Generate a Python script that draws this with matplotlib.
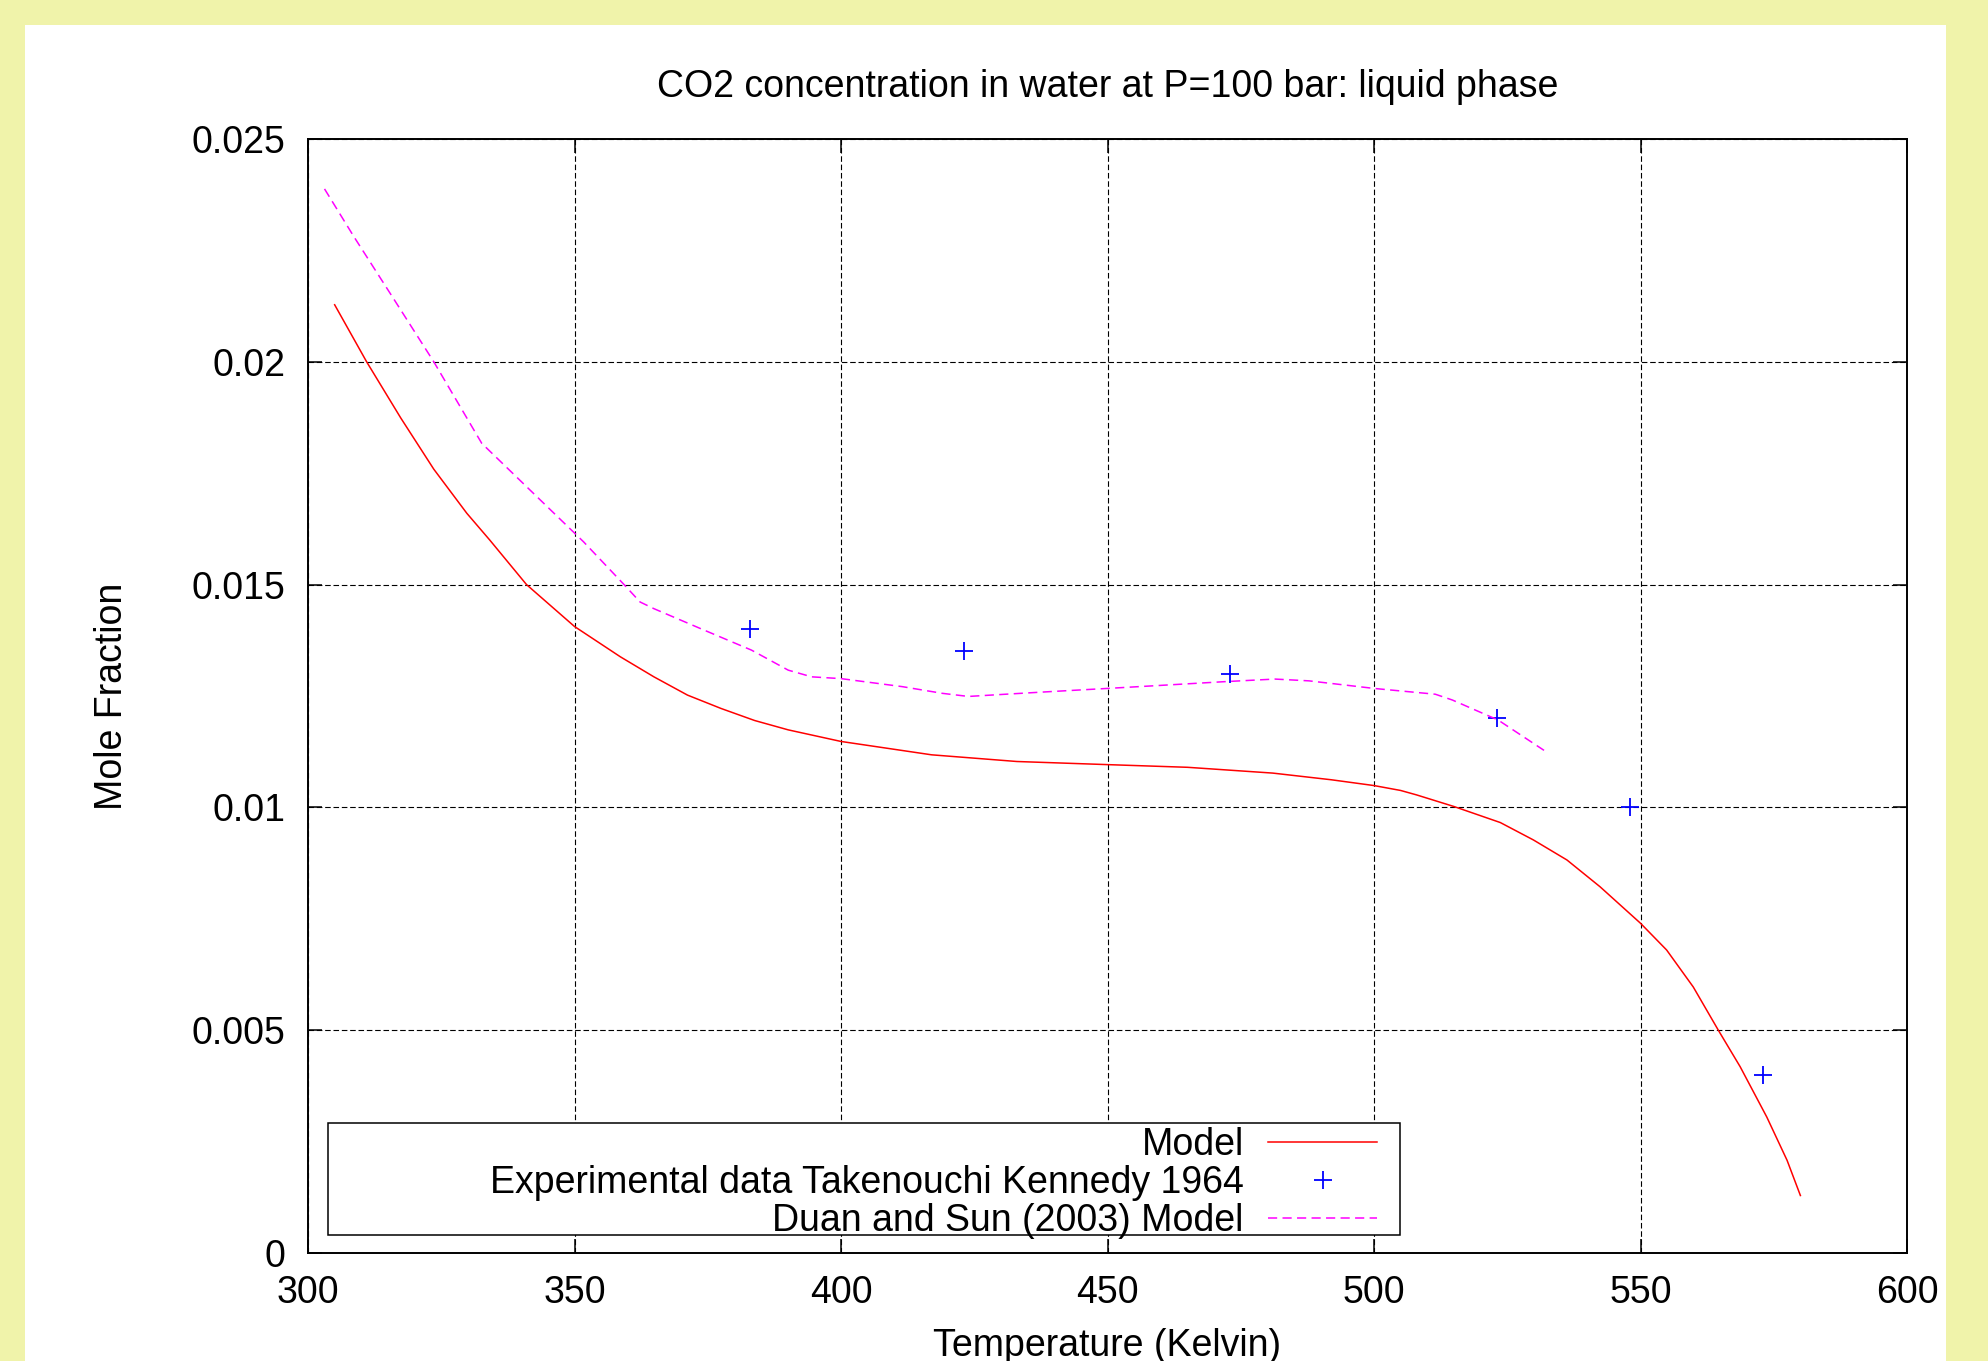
import matplotlib
matplotlib.use("Agg")
import matplotlib.pyplot as plt
from matplotlib.patches import Rectangle
from matplotlib.ticker import FixedLocator, FuncFormatter

plt.rcParams['font.family'] = ['Liberation Sans', 'DejaVu Sans']

# ---- data ----
model_T = [305, 311, 317.4, 323.6, 329.8, 334.1, 341, 350, 358.6, 364.9, 371.2,
           377.5, 383.8, 390.1, 400, 417, 433, 450, 465, 481, 492, 500, 505, 508,
           515, 523.7, 529.9, 536.2, 542.4, 550, 554.9, 559.9, 564.6, 568.7, 573.7,
           577.5, 580]
model_x = [0.02128, 0.0200, 0.01874, 0.01759, 0.0166, 0.0160, 0.0150, 0.01406,
           0.01338, 0.01293, 0.01252, 0.01222, 0.01195, 0.01174, 0.01148, 0.01118,
           0.01103, 0.01096, 0.0109, 0.01077, 0.01062, 0.01049, 0.01038, 0.01028,
           0.01002, 0.00966, 0.00927, 0.00882, 0.00822, 0.0074, 0.0068, 0.00597,
           0.0050, 0.00418, 0.00305, 0.00208, 0.00129]

exp_T = [383, 423, 473, 523, 548, 573]
exp_x = [0.0140, 0.0135, 0.0130, 0.0120, 0.0100, 0.0040]

duan_T = [303.1, 308.6, 315.5, 323.6, 332.6, 351.7, 359.3, 362.3, 364.9, 373.7,
          383.2, 390.1, 394.5, 400, 411.5, 419, 423.9, 430.9, 439.5, 450, 458.8,
          471.7, 481.4, 487.8, 500, 511.5, 514.7, 523.3, 531.9]
duan_x = [0.02388, 0.02281, 0.02152, 0.0200, 0.01817, 0.01596, 0.0150, 0.01461,
          0.01446, 0.01401, 0.01353, 0.01308, 0.01293, 0.01289, 0.01271, 0.01256,
          0.01249, 0.01254, 0.0126, 0.01267, 0.01273, 0.01282, 0.01288, 0.01284,
          0.01267, 0.01254, 0.01241, 0.01196, 0.01128]

x_ticks = [300, 350, 400, 450, 500, 550, 600]
y_ticks = [0, 0.005, 0.01, 0.015, 0.02, 0.025]

title = "CO2 concentration in water at P=100 bar: liquid phase"
xlabel = "Temperature (Kelvin)"
ylabel = "Mole Fraction"
labels = ["Model", "Experimental data Takenouchi Kennedy 1964", "Duan and Sun (2003) Model"]

# ---- figure ----
W, H = 1988, 1361
FS = 27
fig = plt.figure(figsize=(W / 100, H / 100), dpi=100, facecolor='#f0f3aa')
fig.add_artist(Rectangle((25 / W, 0), (1946 - 25) / W, 1 - 25 / H,
                         transform=fig.transFigure, facecolor='white',
                         edgecolor='none', zorder=-1))

ax_l, ax_r, ax_t, ax_b = 308, 1907, 139, 1253
ax = fig.add_axes([ax_l / W, 1 - ax_b / H, (ax_r - ax_l) / W, (ax_b - ax_t) / H])
ax.set_facecolor('white')

l1, = ax.plot(model_T, model_x, color='#ff0000', lw=1.1, zorder=3)
l2, = ax.plot(exp_T, exp_x, linestyle='none', marker='+', color='#0000ff',
              markersize=13, markeredgewidth=1.3, zorder=3)
l3, = ax.plot(duan_T, duan_x, color='#ff00ff', lw=1.1, linestyle=(0, (6, 3.5)), zorder=3)

ax.set_xlim(300, 600)
ax.set_ylim(0, 0.025)
ax.xaxis.set_major_locator(FixedLocator(x_ticks))
ax.yaxis.set_major_locator(FixedLocator(y_ticks))
ax.yaxis.set_major_formatter(FuncFormatter(lambda v, p: "%g" % v))
ax.xaxis.set_major_formatter(FuncFormatter(lambda v, p: "%g" % v))

ax.tick_params(direction='in', length=10, width=1.1, top=True, right=True,
               labelsize=FS, colors='black')
ax.tick_params(axis='x', pad=16)
ax.tick_params(axis='y', pad=16)
for s in ax.spines.values():
    s.set_linewidth(1.4)
    s.set_color('black')

ax.set_axisbelow(True)
ax.grid(True, color='black', lw=0.8, linestyle=(0, (5, 2.5)))

ax.set_title(title, fontsize=FS, pad=30)
ax.set_xlabel(xlabel, fontsize=FS, va='center')
ax.xaxis.set_label_coords(0.5, (ax_b - 1346) / (ax_b - ax_t))
ax.set_ylabel(ylabel, fontsize=FS, va='center')
ax.yaxis.set_label_coords((112 - ax_l) / (ax_r - ax_l), 0.5)

# legend box
bx0 = (328 - ax_l) / (ax_r - ax_l)
bx1 = (1400 - ax_l) / (ax_r - ax_l)
by0 = (ax_b - 1235) / (ax_b - ax_t)
by1 = (ax_b - 1123) / (ax_b - ax_t)
ax.add_patch(Rectangle((bx0, by0), bx1 - bx0, by1 - by0, transform=ax.transAxes,
                       facecolor='white', edgecolor='black', lw=1.1, zorder=4))
leg = ax.legend([l1, l2, l3], labels, loc='center right',
                bbox_to_anchor=((1377 - ax_l) / (ax_r - ax_l), (ax_b - 1183) / (ax_b - ax_t)),
                frameon=False, markerfirst=False, handlelength=2.9, handletextpad=0.65,
                labelspacing=0.06, borderpad=0, borderaxespad=0, fontsize=FS, numpoints=1)
leg.set_zorder(5)

fig.savefig("out.png", dpi=100, facecolor=fig.get_facecolor())
